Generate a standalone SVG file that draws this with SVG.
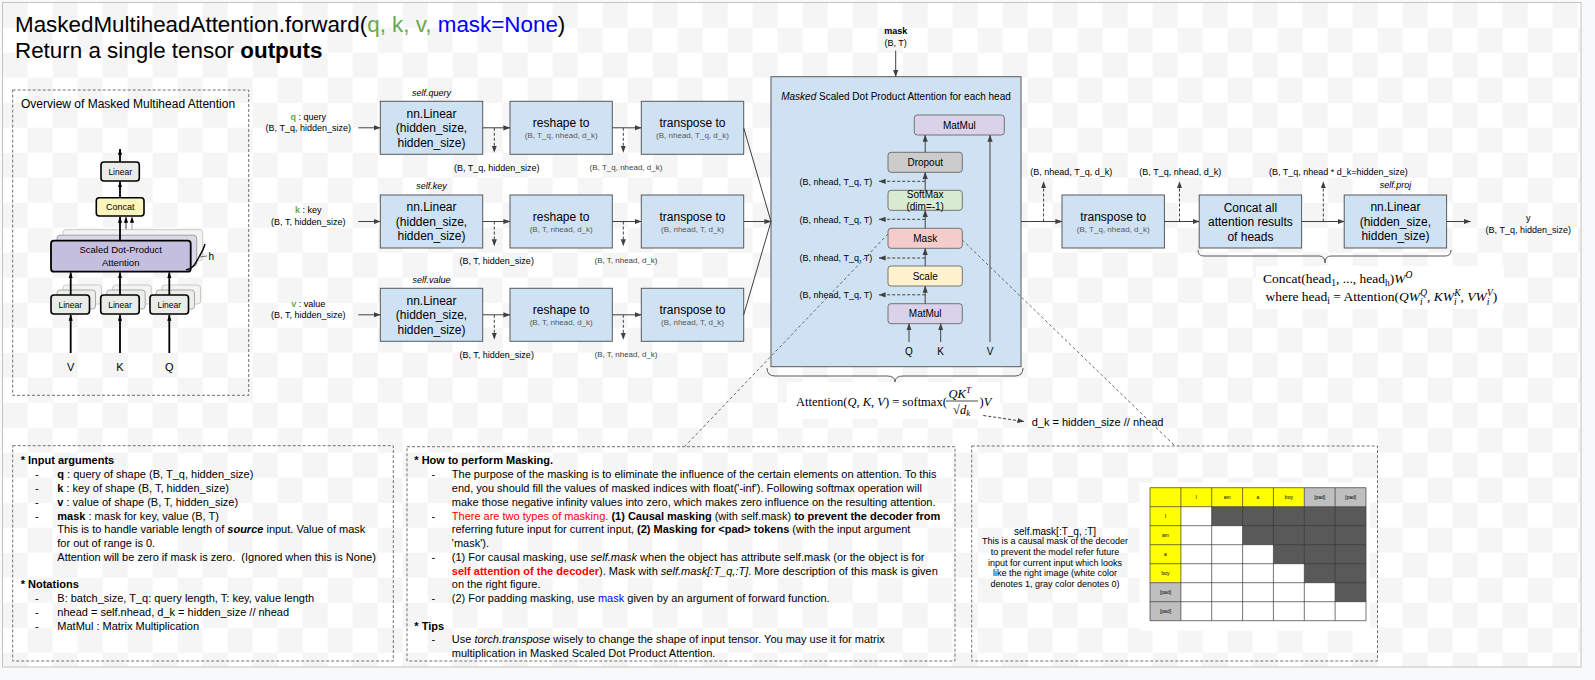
<svg xmlns="http://www.w3.org/2000/svg" width="1595" height="680" viewBox="0 0 1595 680">
<defs>
<pattern id="chk" x="2.67" y="2.67" width="50" height="50" patternUnits="userSpaceOnUse">
<rect width="50" height="50" fill="#ffffff"/>
<rect width="25" height="25" fill="#f5f5f5"/>
<rect x="25" y="25" width="25" height="25" fill="#f5f5f5"/>
</pattern>
<marker id="ar" viewBox="0 0 10 10" refX="9.5" refY="5" markerWidth="7" markerHeight="7" markerUnits="userSpaceOnUse" orient="auto">
<path d="M0,1.3 L10,5 L0,8.7 z" fill="#404040"/>
</marker>
<marker id="ark" viewBox="0 0 10 10" refX="9.5" refY="5" markerWidth="6" markerHeight="6" markerUnits="userSpaceOnUse" orient="auto">
<path d="M0,1.5 L10,5 L0,8.5 z" fill="#000"/>
</marker>
</defs>
<style>
text{font-family:"Liberation Sans",Arial,sans-serif;fill:#000}
.m{text-anchor:middle}
.e{text-anchor:end}
.sf{font-family:"Liberation Serif","Times New Roman",serif}
.box{fill:#cfe2f3;stroke:#595959;stroke-width:1}
.ib{stroke:#595959;stroke-width:0.8}
.ln{stroke:#404040;stroke-width:1;fill:none}
.dl{stroke:#404040;stroke-width:1;fill:none;stroke-dasharray:3 2}
.dm{stroke:#595959;stroke-width:0.9;fill:none;stroke-dasharray:3 2.5}
.panel{fill:none;stroke:#707070;stroke-width:1;stroke-dasharray:3 2}
.bt{font-size:12px}
.st{font-size:8px;fill:#595959}
.lb{font-size:9px}
.lg{font-size:8px;fill:#444}
.it{font-style:italic}
.b{font-weight:bold}
.nt{font-size:11px}
.olin{fill:#e9ece7;stroke:#000;stroke-width:1.6}
.osh1{fill:#f3f4f2;stroke:#c9c9c9;stroke-width:1}
.osh2{fill:#eceeea;stroke:#a9a9a9;stroke-width:1}
.ok{stroke:#000;stroke-width:1.8;fill:none}
</style>
<rect width="1595" height="680" fill="#f8f9fb"/>
<rect x="2.5" y="2.5" width="1578.5" height="664.5" fill="url(#chk)" stroke="#c4c4c4"/>

<g id="title">
<text x="15" y="31.7" font-size="22.4">MaskedMultiheadAttention.forward(<tspan fill="#6aa84f">q, k, v,</tspan> <tspan fill="#0000ff">mask=None</tspan>)</text>
<text x="15" y="58.3" font-size="22.4">Return a single tensor <tspan class="b">outputs</tspan></text>
</g>

<g id="overview">
<rect class="panel" x="12.7" y="90" width="236" height="305.3"/>
<text x="21" y="108" font-size="12" fill="#1c1c3c">Overview of Masked Multihead Attention</text>
<line class="ok" x1="120" y1="162" x2="120" y2="149" marker-end="url(#ark)"/>
<rect class="olin" x="101" y="162" width="38.3" height="19" rx="3"/>
<text class="m" x="120.2" y="174.8" font-size="8.5" fill="#555">Linear</text>
<line class="ok" x1="120" y1="197.7" x2="120" y2="181.5" marker-end="url(#ark)"/>
<rect x="96.3" y="197.7" width="47.7" height="18.3" rx="3" fill="#faf4bd" stroke="#000" stroke-width="1.6"/>
<text class="m" x="120.2" y="210.2" font-size="9" fill="#444">Concat</text>
<line x1="132" y1="230" x2="132" y2="217" stroke="#bbb" stroke-width="1.4" marker-end="url(#ark)"/>
<line x1="126" y1="235" x2="126" y2="217" stroke="#777" stroke-width="1.4" marker-end="url(#ark)"/>
<rect class="osh1" x="63" y="229.7" width="139.7" height="31" rx="3"/>
<rect x="57" y="235.2" width="139.7" height="31" rx="3" fill="#dcd8ea" stroke="#a0a0a0"/>
<line class="ok" x1="120" y1="240.7" x2="120" y2="217" marker-end="url(#ark)"/>
<rect x="51" y="240.7" width="139.7" height="31" rx="3" fill="#c5bfdf" stroke="#000" stroke-width="1.8"/>
<text class="m" x="120.7" y="253.3" font-size="9.5" fill="#444">Scaled Dot-Product</text>
<text class="m" x="120.7" y="266" font-size="9.5" fill="#444">Attention</text>
<path d="M186 270 C194 269 196 262 199 257 C202 252 204 248 205 244" stroke="#000" stroke-width="1.4" fill="none"/>
<line x1="199" y1="257" x2="207" y2="256" stroke="#555" stroke-width="0.8"/>
<text x="208.5" y="260" font-size="10" fill="#444">h</text>
<g>
<rect class="osh1" x="63" y="285" width="38.5" height="19" rx="3"/>
<rect class="osh2" x="57" y="290" width="38.5" height="19" rx="3"/>
<line class="ok" x1="70.7" y1="295" x2="70.7" y2="272.5" marker-end="url(#ark)"/>
<rect class="olin" x="51" y="295" width="38.5" height="19" rx="3"/>
<text class="m" x="70.3" y="307.8" font-size="8.5" fill="#555">Linear</text>
<rect class="osh1" x="112.7" y="285" width="38.5" height="19" rx="3"/>
<rect class="osh2" x="106.7" y="290" width="38.5" height="19" rx="3"/>
<line class="ok" x1="120" y1="295" x2="120" y2="272.5" marker-end="url(#ark)"/>
<rect class="olin" x="100.7" y="295" width="38.5" height="19" rx="3"/>
<text class="m" x="120" y="307.8" font-size="8.5" fill="#555">Linear</text>
<rect class="osh1" x="162" y="285" width="38.5" height="19" rx="3"/>
<rect class="osh2" x="156" y="290" width="38.5" height="19" rx="3"/>
<line class="ok" x1="169.3" y1="295" x2="169.3" y2="272.5" marker-end="url(#ark)"/>
<rect class="olin" x="150" y="295" width="38.5" height="19" rx="3"/>
<text class="m" x="169.3" y="307.8" font-size="8.5" fill="#555">Linear</text>
</g>
<line class="ok" x1="70.7" y1="353" x2="70.7" y2="315" marker-end="url(#ark)"/>
<line class="ok" x1="120" y1="353" x2="120" y2="315" marker-end="url(#ark)"/>
<line class="ok" x1="169.3" y1="353" x2="169.3" y2="315" marker-end="url(#ark)"/>
<text class="m" x="70.7" y="371" font-size="11" fill="#444">V</text>
<text class="m" x="120" y="371" font-size="11" fill="#444">K</text>
<text class="m" x="169.3" y="371" font-size="11" fill="#444">Q</text>
</g>

<g id="inputs">
<text class="m lb" x="308.3" y="119.5"><tspan class="b" fill="#6aa84f">q</tspan> : query</text>
<text class="m lb" x="308.3" y="131">(B, T_q, hidden_size)</text>
<text class="m lb" x="308.3" y="213"><tspan class="b" fill="#6aa84f">k</tspan> : key</text>
<text class="m lb" x="308.3" y="224.7">(B, T, hidden_size)</text>
<text class="m lb" x="308.3" y="306.5"><tspan class="b" fill="#6aa84f">v</tspan> : value</text>
<text class="m lb" x="308.3" y="318.3">(B, T, hidden_size)</text>
</g>

<g id="query-linear">
<text class="m lb it" x="431.5" y="95.6">self.query</text>
<rect class="box" x="380.3" y="101.3" width="102.4" height="53"/>
<text class="m bt" x="431.5" y="117.6">nn.Linear</text>
<text class="m bt" x="431.5" y="132">(hidden_size,</text>
<text class="m bt" x="431.5" y="146.6">hidden_size)</text>
</g>
<g id="query-reshape">
<rect class="box" x="510" y="101.3" width="102.3" height="53"/>
<text class="m bt" x="561.2" y="127">reshape to</text>
<text class="m st" x="561.2" y="138.2">(B, T_q, nhead, d_k)</text>
</g>
<g id="query-transpose">
<rect class="box" x="641.3" y="101.3" width="102.4" height="53"/>
<text class="m bt" x="692.5" y="127">transpose to</text>
<text class="m st" x="692.5" y="138.2">(B, nhead, T_q, d_k)</text>
</g>

<g id="key-linear">
<text class="m lb it" x="431.5" y="189.3">self.key</text>
<rect class="box" x="380.3" y="195" width="102.4" height="53"/>
<text class="m bt" x="431.5" y="211.3">nn.Linear</text>
<text class="m bt" x="431.5" y="225.7">(hidden_size,</text>
<text class="m bt" x="431.5" y="240.3">hidden_size)</text>
</g>
<g id="key-reshape">
<rect class="box" x="510" y="195" width="102.3" height="53"/>
<text class="m bt" x="561.2" y="220.7">reshape to</text>
<text class="m st" x="561.2" y="231.9">(B, T, nhead, d_k)</text>
</g>
<g id="key-transpose">
<rect class="box" x="641.3" y="195" width="102.4" height="53"/>
<text class="m bt" x="692.5" y="220.7">transpose to</text>
<text class="m st" x="692.5" y="231.9">(B, nhead, T, d_k)</text>
</g>

<g id="value-linear">
<text class="m lb it" x="431.5" y="282.6">self.value</text>
<rect class="box" x="380.3" y="288.3" width="102.4" height="53"/>
<text class="m bt" x="431.5" y="304.6">nn.Linear</text>
<text class="m bt" x="431.5" y="319">(hidden_size,</text>
<text class="m bt" x="431.5" y="333.6">hidden_size)</text>
</g>
<g id="value-reshape">
<rect class="box" x="510" y="288.3" width="102.3" height="53"/>
<text class="m bt" x="561.2" y="314">reshape to</text>
<text class="m st" x="561.2" y="325.2">(B, T, nhead, d_k)</text>
</g>
<g id="value-transpose">
<rect class="box" x="641.3" y="288.3" width="102.4" height="53"/>
<text class="m bt" x="692.5" y="314">transpose to</text>
<text class="m st" x="692.5" y="325.2">(B, nhead, T, d_k)</text>
</g>

<g id="shape-labels">
<text class="m lb" x="496.7" y="170.6">(B, T_q, hidden_size)</text>
<text class="m lg" x="626" y="169.6">(B, T_q, nhead, d_k)</text>
<text class="m lb" x="496.7" y="264.3">(B, T, hidden_size)</text>
<text class="m lg" x="626" y="263.3">(B, T, nhead, d_k)</text>
<text class="m lb" x="496.7" y="357.6">(B, T, hidden_size)</text>
<text class="m lg" x="626" y="356.6">(B, T, nhead, d_k)</text>
</g>

<g id="sdpa">
<rect x="771" y="76.7" width="250" height="290" fill="#cfe2f3" stroke="#595959"/>
<text class="m" x="896" y="99.6" font-size="10"><tspan class="it">Masked</tspan> Scaled Dot Product Attention for each head</text>
<rect class="ib" x="914.3" y="115" width="90" height="20" rx="3" fill="#d9d2e9"/>
<text class="m" x="959.3" y="128.6" font-size="10" fill="#222">MatMul</text>
<rect class="ib" x="888" y="152.3" width="74.3" height="20" rx="3" fill="#cccccc"/>
<text class="m" x="925.2" y="165.9" font-size="10" fill="#222">Dropout</text>
<rect class="ib" x="888" y="190.3" width="74.3" height="20" rx="3" fill="#d9ead3"/>
<text class="m" x="925.2" y="198.2" font-size="10" fill="#222">SoftMax</text>
<text class="m" x="925.2" y="210.2" font-size="10" fill="#222">(dim=-1)</text>
<rect class="ib" x="888" y="228.3" width="74.3" height="20" rx="3" fill="#f4cccc"/>
<text class="m" x="925.2" y="241.9" font-size="10" fill="#222">Mask</text>
<rect class="ib" x="888" y="266" width="74.3" height="20" rx="3" fill="#fff2cc"/>
<text class="m" x="925.2" y="279.6" font-size="10" fill="#222">Scale</text>
<rect class="ib" x="888" y="303.7" width="74.3" height="20" rx="3" fill="#d9d2e9"/>
<text class="m" x="925.2" y="317.3" font-size="10" fill="#222">MatMul</text>
<text class="m" x="909" y="355.2" font-size="10" fill="#222">Q</text>
<text class="m" x="940.7" y="355.2" font-size="10" fill="#222">K</text>
<text class="m" x="990" y="355.2" font-size="10" fill="#222">V</text>
<text class="e lb" x="872.3" y="184.7">(B, nhead, T_q, T)</text>
<text class="e lb" x="872.3" y="222.6">(B, nhead, T_q, T)</text>
<text class="e lb" x="872.3" y="261.3">(B, nhead, T_q, T)</text>
<text class="e lb" x="872.3" y="298">(B, nhead, T_q, T)</text>
</g>

<g id="mask-input">
<text class="m lb b" x="895.7" y="34.2" fill="#0000ff">mask</text>
<text class="m lb" x="895.7" y="45.5">(B, T)</text>
</g>

<g id="attention-formula">
<path d="M767 368 Q767 376 775 376 L887 376 Q895 376 895 382 Q895 376 903 376 L1015 376 Q1023 376 1023 368" stroke="#595959" fill="none"/>
<rect x="787" y="382" width="213" height="37" fill="#fff"/>
<text class="sf" x="796" y="405.5" font-size="12.5">Attention(<tspan class="it">Q</tspan>, <tspan class="it">K</tspan>, <tspan class="it">V</tspan>) = softmax(</text>
<text class="sf it" x="948.5" y="397.5" font-size="12.5">QK<tspan font-size="9" dy="-4.5">T</tspan></text>
<line x1="946" y1="401" x2="978" y2="401" stroke="#000" stroke-width="0.7"/>
<text class="sf" x="953" y="414" font-size="12.5">√<tspan class="it">d</tspan><tspan class="it" font-size="9" dy="2">k</tspan></text>
<text class="sf" x="979.5" y="405.5" font-size="12.5">)<tspan class="it">V</tspan></text>
<text x="1031.7" y="426.2" font-size="11">d_k = hidden_size // nhead</text>
</g>

<g id="out-transpose">
<rect class="box" x="1062" y="195" width="102.4" height="53"/>
<text class="m bt" x="1113.2" y="220.7">transpose to</text>
<text class="m st" x="1113.2" y="231.9">(B, T_q, nhead, d_k)</text>
</g>
<g id="concat">
<rect class="box" x="1199.2" y="195" width="102.4" height="53"/>
<text class="m bt" x="1250.4" y="212">Concat all</text>
<text class="m bt" x="1250.4" y="226">attention results</text>
<text class="m bt" x="1250.4" y="240.6">of heads</text>
</g>
<g id="proj">
<text class="m lb it" x="1395.4" y="187.5">self.proj</text>
<rect class="box" x="1344.2" y="195" width="102.4" height="53"/>
<text class="m bt" x="1395.4" y="211.3">nn.Linear</text>
<text class="m bt" x="1395.4" y="225.7">(hidden_size,</text>
<text class="m bt" x="1395.4" y="240.3">hidden_size)</text>
</g>
<g id="output">
<text class="m lb" x="1528.3" y="220.5">y</text>
<text class="m lb" x="1528.3" y="232.5">(B, T_q, hidden_size)</text>
<text class="m lb" x="1071.3" y="175">(B, nhead, T_q, d_k)</text>
<text class="m lb" x="1180.3" y="175">(B, T_q, nhead, d_k)</text>
<text class="m lb" x="1338.3" y="175">(B, T_q, nhead * d_k=hidden_size)</text>
</g>
<g id="multihead-formula">
<path d="M1198 250 Q1198 256 1204 256 L1319 256 Q1325 256 1325 263 Q1325 256 1331 256 L1445 256 Q1451 256 1451 250" stroke="#595959" fill="none"/>
<rect x="1256" y="266" width="248" height="43" fill="#fff"/>
<text class="sf" x="1263" y="283" font-size="13.5">Concat(head<tspan font-size="9.5" dy="2.5">1</tspan><tspan dy="-2.5">, ..., head</tspan><tspan font-size="9.5" dy="2.5">h</tspan><tspan dy="-2.5">)</tspan><tspan class="it">W</tspan><tspan class="it" font-size="9.5" dy="-5.5">O</tspan></text>
<text class="sf" x="1265.5" y="301" font-size="13.5">where head<tspan font-size="9.5" dy="2.5">i</tspan><tspan dy="-2.5"> = Attention(</tspan><tspan class="it">QW</tspan><tspan class="it" font-size="9.5" dy="3.5">i</tspan><tspan class="it" font-size="9.5" dx="-2.5" dy="-9">Q</tspan><tspan dy="5.5">, </tspan><tspan class="it">KW</tspan><tspan class="it" font-size="9.5" dy="3.5">i</tspan><tspan class="it" font-size="9.5" dx="-2.5" dy="-9">K</tspan><tspan dy="5.5">, </tspan><tspan class="it">VW</tspan><tspan class="it" font-size="9.5" dy="3.5">i</tspan><tspan class="it" font-size="9.5" dx="-2.5" dy="-9">V</tspan><tspan dy="5.5">)</tspan></text>
</g>

<g id="connectors">
<line class="ln" x1="358.3" y1="127.8" x2="380.3" y2="127.8" marker-end="url(#ar)"/>
<line class="ln" x1="482.7" y1="127.8" x2="510" y2="127.8" marker-end="url(#ar)"/>
<line class="ln" x1="612.3" y1="127.8" x2="641.3" y2="127.8" marker-end="url(#ar)"/>
<line class="dl" x1="494.3" y1="127.8" x2="494.3" y2="152.3" marker-end="url(#ar)"/>
<line class="dl" x1="623.3" y1="127.8" x2="623.3" y2="152.3" marker-end="url(#ar)"/>
<line class="ln" x1="358.3" y1="221.5" x2="380.3" y2="221.5" marker-end="url(#ar)"/>
<line class="ln" x1="482.7" y1="221.5" x2="510" y2="221.5" marker-end="url(#ar)"/>
<line class="ln" x1="612.3" y1="221.5" x2="641.3" y2="221.5" marker-end="url(#ar)"/>
<line class="dl" x1="494.3" y1="221.5" x2="494.3" y2="246" marker-end="url(#ar)"/>
<line class="dl" x1="623.3" y1="221.5" x2="623.3" y2="246" marker-end="url(#ar)"/>
<line class="ln" x1="358.3" y1="314.8" x2="380.3" y2="314.8" marker-end="url(#ar)"/>
<line class="ln" x1="482.7" y1="314.8" x2="510" y2="314.8" marker-end="url(#ar)"/>
<line class="ln" x1="612.3" y1="314.8" x2="641.3" y2="314.8" marker-end="url(#ar)"/>
<line class="dl" x1="494.3" y1="314.8" x2="494.3" y2="339.3" marker-end="url(#ar)"/>
<line class="dl" x1="623.3" y1="314.8" x2="623.3" y2="339.3" marker-end="url(#ar)"/>
<line class="ln" x1="743.7" y1="127.8" x2="771" y2="221.5"/>
<line class="ln" x1="743.7" y1="314.8" x2="771" y2="221.5"/>
<line class="ln" x1="743.7" y1="221.5" x2="771" y2="221.5" marker-end="url(#ar)"/>
<line class="ln" x1="895.7" y1="50.7" x2="895.7" y2="76.7" marker-end="url(#ar)"/>
<line class="ln" x1="925.2" y1="303.7" x2="925.2" y2="286" marker-end="url(#ar)"/>
<line class="ln" x1="925.2" y1="266" x2="925.2" y2="248.3" marker-end="url(#ar)"/>
<line class="ln" x1="925.2" y1="228.3" x2="925.2" y2="210.3" marker-end="url(#ar)"/>
<line class="ln" x1="925.2" y1="190.3" x2="925.2" y2="172.3" marker-end="url(#ar)"/>
<line class="ln" x1="925.2" y1="152.3" x2="925.2" y2="135" marker-end="url(#ar)"/>
<line class="ln" x1="909" y1="342" x2="909" y2="323.7" marker-end="url(#ar)"/>
<line class="ln" x1="940.7" y1="342" x2="940.7" y2="323.7" marker-end="url(#ar)"/>
<line class="ln" x1="990" y1="342" x2="990" y2="135" marker-end="url(#ar)"/>
<line class="dl" x1="925.2" y1="181.3" x2="879" y2="181.3" marker-end="url(#ar)"/>
<line class="dl" x1="925.2" y1="219.3" x2="879" y2="219.3" marker-end="url(#ar)"/>
<line class="dl" x1="925.2" y1="258" x2="879" y2="258" marker-end="url(#ar)"/>
<line class="dl" x1="925.2" y1="294.8" x2="879" y2="294.8" marker-end="url(#ar)"/>
<line class="dm" x1="888" y1="234" x2="684.5" y2="446.7"/>
<line class="dm" x1="962.3" y1="240" x2="1175" y2="446"/>
<line class="dl" x1="983.3" y1="415.5" x2="1024" y2="421.5" marker-end="url(#ar)"/>
<line class="ln" x1="1021" y1="221.5" x2="1062" y2="221.5" marker-end="url(#ar)"/>
<line class="ln" x1="1164.4" y1="221.5" x2="1199.2" y2="221.5" marker-end="url(#ar)"/>
<line class="ln" x1="1301.6" y1="221.5" x2="1344.2" y2="221.5" marker-end="url(#ar)"/>
<line class="ln" x1="1446.6" y1="221.5" x2="1470.6" y2="221.5" marker-end="url(#ar)"/>
<line class="dl" x1="1043.6" y1="221.5" x2="1043.6" y2="181.7" marker-end="url(#ar)"/>
<line class="dl" x1="1179.5" y1="221.5" x2="1179.5" y2="181.7" marker-end="url(#ar)"/>
<line class="dl" x1="1323.3" y1="221.5" x2="1323.3" y2="181.7" marker-end="url(#ar)"/>
</g>

<g id="notes-args">
<rect class="panel" x="12.7" y="445.7" width="380.6" height="215.3"/>
<text class="nt b" x="20.7" y="464.3">* Input arguments</text>
<text class="nt" x="35" y="478.3">-</text>
<text class="nt" x="57.3" y="478.3"><tspan class="b">q</tspan> : query of shape (B, T_q, hidden_size)</text>
<text class="nt" x="35" y="492.3">-</text>
<text class="nt" x="57.3" y="492.3"><tspan class="b">k</tspan> : key of shape (B, T, hidden_size)</text>
<text class="nt" x="35" y="505.7">-</text>
<text class="nt" x="57.3" y="505.7"><tspan class="b">v</tspan> : value of shape (B, T, hidden_size)</text>
<text class="nt" x="35" y="519.7">-</text>
<text class="nt" x="57.3" y="519.7"><tspan class="b">mask</tspan> : mask for key, value (B, T)</text>
<text class="nt" x="57.3" y="533.3">This is to handle variable length of <tspan class="b it">source</tspan> input. Value of mask</text>
<text class="nt" x="57.3" y="547.3">for out of range is 0.</text>
<text class="nt" x="57.3" y="561.3">Attention will be zero if mask is zero. &#160;(Ignored when this is None)</text>
<text class="nt b" x="20.7" y="588">* Notations</text>
<text class="nt" x="35" y="602.3">-</text>
<text class="nt" x="57.3" y="602.3">B: batch_size, T_q: query length, T: key, value length</text>
<text class="nt" x="35" y="615.7">-</text>
<text class="nt" x="57.3" y="615.7">nhead = self.nhead, d_k = hidden_size // nhead</text>
<text class="nt" x="35" y="629.7">-</text>
<text class="nt" x="57.3" y="629.7">MatMul : Matrix Multiplication</text>
</g>

<g id="notes-masking">
<rect class="panel" x="407" y="446.7" width="548" height="214.3"/>
<text class="nt b" x="414.3" y="464.3">* How to perform Masking.</text>
<text class="nt" x="431.4" y="478.3">-</text>
<text class="nt" x="451.8" y="478.3">The purpose of the masking is to eliminate the influence of the certain elements on attention. To this</text>
<text class="nt" x="451.8" y="492.3">end, you should fill the values of masked indices with float('-inf'). Following softmax operation will</text>
<text class="nt" x="451.8" y="505.7">make those negative infinity values into zero, which makes zero influence on the resulting attention.</text>
<text class="nt" x="431.4" y="519.7">-</text>
<text class="nt" x="451.8" y="519.7"><tspan fill="#ff0000">There are two types of masking.</tspan> <tspan class="b">(1) Causal masking</tspan> (with self.mask) <tspan class="b">to prevent the decoder from</tspan></text>
<text class="nt" x="451.8" y="533.3">referring future input for current input, <tspan class="b">(2) Masking for &lt;pad&gt; tokens</tspan> (with the input argument</text>
<text class="nt" x="451.8" y="547.3">'mask').</text>
<text class="nt" x="431.4" y="561.3">-</text>
<text class="nt" x="451.8" y="561.3">(1) For causal masking, use <tspan class="it">self.mask</tspan> when the object has attribute self.mask (or the object is for</text>
<text class="nt" x="451.8" y="574.7"><tspan class="b" fill="#ff0000">self attention of the decoder</tspan>). Mask with <tspan class="it">self.mask[:T_q,:T]</tspan>. More description of this mask is given</text>
<text class="nt" x="451.8" y="588.3">on the right figure.</text>
<text class="nt" x="431.4" y="602.3">-</text>
<text class="nt" x="451.8" y="602.3">(2) For padding masking, use <tspan fill="#0000ff">mask</tspan> given by an argument of forward function.</text>
<text class="nt b" x="414.3" y="629.7">* Tips</text>
<text class="nt" x="431.4" y="643">-</text>
<text class="nt" x="451.8" y="643">Use <tspan class="it">torch.transpose</tspan> wisely to change the shape of input tensor. You may use it for matrix</text>
<text class="nt" x="451.8" y="657">multiplication in Masked Scaled Dot Product Attention.</text>
</g>

<g id="mask-figure">
<rect class="panel" x="971.7" y="446" width="405.8" height="215"/>
<text class="m" x="1055" y="534.5" font-size="10">self.mask[:T_q, :T]</text>
<text class="m" x="1055" y="544" font-size="9" fill="#222">This is a causal mask of the decoder</text>
<text class="m" x="1055" y="554.8" font-size="9" fill="#222">to prevent the model refer future</text>
<text class="m" x="1055" y="565.6" font-size="9" fill="#222">input for current input which looks</text>
<text class="m" x="1055" y="576.3" font-size="9" fill="#222">like the right image (white color</text>
<text class="m" x="1055" y="587" font-size="9" fill="#222">denotes 1, gray color denotes 0)</text>
<rect x="1139.3" y="482.7" width="230.7" height="148" fill="#fff"/>
<rect x="1150" y="487.7" width="216" height="133" fill="#fff"/>
<rect x="1150" y="487.7" width="154.3" height="19" fill="#ffff00"/>
<rect x="1150" y="487.7" width="30.9" height="95" fill="#ffff00"/>
<rect x="1304.3" y="487.7" width="61.7" height="19" fill="#bfbfbf"/>
<rect x="1150" y="582.7" width="30.9" height="38" fill="#bfbfbf"/>
<path d="M1211.7 506.7 H1366 V601.7 H1335.1 V582.7 H1304.3 V563.7 H1273.4 V544.7 H1242.6 V525.7 H1211.7 Z" fill="#595959"/>
<path d="M1150 487.7 H1366 M1150 506.7 H1366 M1150 525.7 H1366 M1150 544.7 H1366 M1150 563.7 H1366 M1150 582.7 H1366 M1150 601.7 H1366 M1150 620.7 H1366 M1150 487.7 V620.7 M1180.9 487.7 V620.7 M1211.7 487.7 V620.7 M1242.6 487.7 V620.7 M1273.4 487.7 V620.7 M1304.3 487.7 V620.7 M1335.1 487.7 V620.7 M1366 487.7 V620.7" stroke="#3a3a3a" stroke-width="0.7" fill="none"/>
<g font-size="5" fill="#333">
<text class="m" x="1196.3" y="499">I</text>
<text class="m" x="1227.2" y="499">am</text>
<text class="m" x="1258" y="499">a</text>
<text class="m" x="1288.9" y="499">boy</text>
<text class="m" x="1319.7" y="499">[pad]</text>
<text class="m" x="1350.6" y="499">[pad]</text>
<text class="m" x="1165.5" y="518">I</text>
<text class="m" x="1165.5" y="537">am</text>
<text class="m" x="1165.5" y="556">a</text>
<text class="m" x="1165.5" y="575">boy</text>
<text class="m" x="1165.5" y="594">[pad]</text>
<text class="m" x="1165.5" y="613">[pad]</text>
</g>
</g>
</svg>
